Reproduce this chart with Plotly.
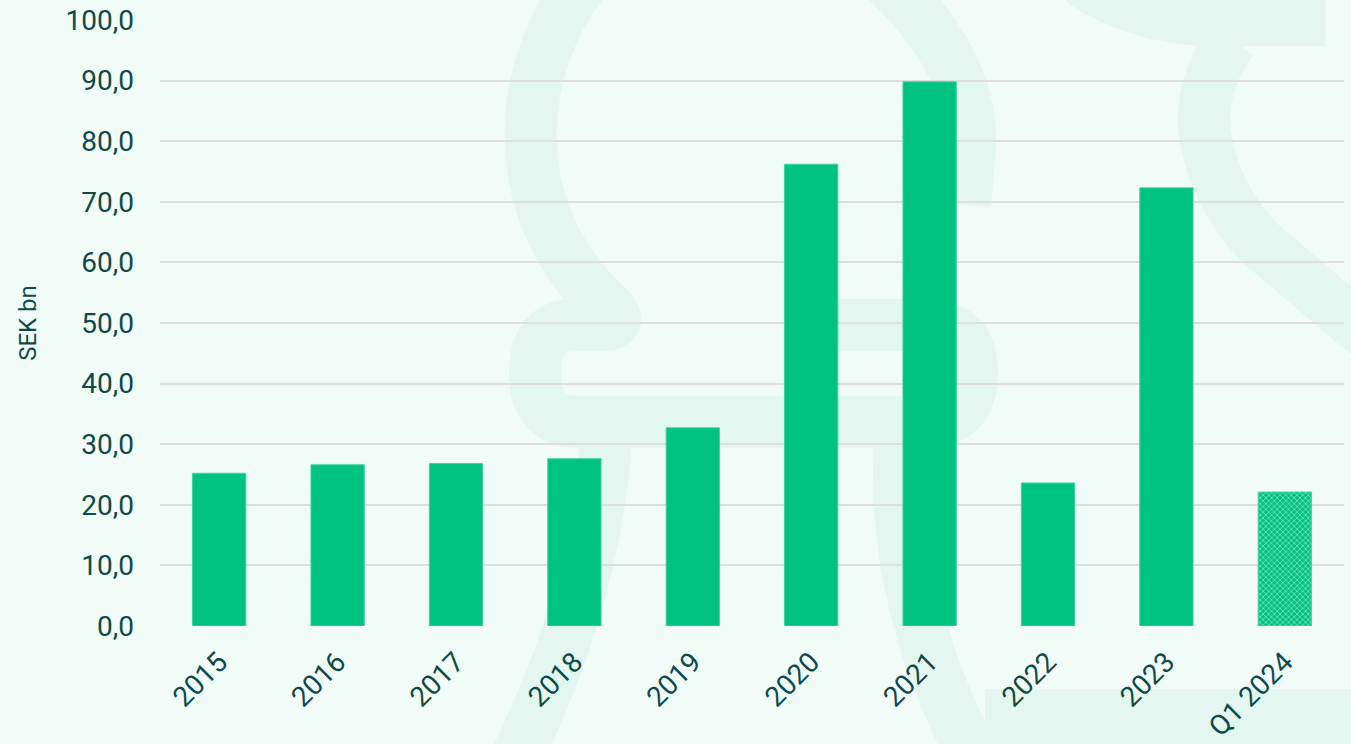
import plotly.graph_objects as go

categories = ["2015", "2016", "2017", "2018", "2019", "2020", "2021", "2022", "2023", "Q1 2024"]
values = [25.2, 26.6, 26.8, 27.6, 32.7, 76.2, 89.8, 23.6, 72.3, 22.1]
patterned = [False, False, False, False, False, False, False, False, False, True]

BAR = "#00C281"
TEXT = "#0E4A4A"
BG = "#F1FBF7"
LOGO = "#E3F6EF"

L, R, T, B = 160, 7, 20, 118
W, H = 1351, 744
PW, PH = W - L - R, H - T - B


def P(px, py):
    return f"{(px - L) / PW:.4f},{(H - B - py) / PH:.4f}"


def path(*segs):
    out = []
    for cmd, pts in segs:
        out.append(cmd + " " + " ".join(P(*p) for p in pts))
    return " ".join(out)


shapes = []
logo_paths = [
    # left S curve into loop
    path(("M", [(585, -20)]), ("C", [(520, 60), (500, 200), (600, 300)]),
         ("Q", [(630, 325), (600, 325)]), ("L", [(575, 325)]),
         ("Q", [(535, 325), (535, 373)]), ("Q", [(535, 422), (580, 422)]),
         ("L", [(925, 422)]), ("Q", [(972, 422), (972, 373)]),
         ("Q", [(972, 325), (925, 325)]), ("L", [(810, 325)])),
    # left leg
    path(("M", [(606, 440)]), ("Q", [(595, 600), (515, 760)])),
    # right leg
    path(("M", [(900, 440)]), ("Q", [(890, 600), (975, 760)])),
    # right top arc
    path(("M", [(880, -25)]), ("Q", [(975, 60), (970, 150)]), ("L", [(965, 205)])),
    # right top band
    path(("M", [(1080, -20)]), ("Q", [(1140, 20), (1215, 20)]), ("L", [(1325, 20)])),
    # right curve and diagonal
    path(("M", [(1232, 40)]), ("Q", [(1195, 90), (1207, 145)]),
         ("Q", [(1218, 200), (1262, 245)]), ("L", [(1380, 345)])),
]
for pth in logo_paths:
    shapes.append(dict(type="path", path=pth, xref="paper", yref="paper",
                       line=dict(color=LOGO, width=52), layer="below"))

shapes.append(dict(type="rect", xref="paper", yref="paper",
                   x0=(985 - L) / PW, x1=(W + 5 - L) / PW,
                   y0=(H - B - 689) / PH, y1=(H - B - 760) / PH,
                   fillcolor=LOGO, line=dict(width=0), layer="below"))

fig = go.Figure()
fig.add_trace(go.Bar(
    x=categories,
    y=values,
    marker=dict(
        color=BAR,
        line=dict(color="#3FD39F", width=1),
        pattern=dict(
            shape=["x" if p else "" for p in patterned],
            fgcolor="white",
            bgcolor=BAR,
            size=4,
            solidity=0.35,
            fillmode="overlay",
        ),
    ),
    width=0.45,
    hoverinfo="skip",
))

fig.update_layout(
    width=W, height=H,
    margin=dict(l=L, r=R, t=T, b=B),
    paper_bgcolor=BG,
    plot_bgcolor="rgba(0,0,0,0)",
    separators=", ",
    font=dict(family="Roboto", color=TEXT, size=28),
    showlegend=False,
    shapes=shapes,
    bargap=0.55,
)
fig.update_yaxes(
    range=[0, 100], dtick=10, tickformat=".1f",
    showgrid=True, gridcolor="#DEDEDE", gridwidth=2,
    zeroline=False, showline=False, ticks="",
    ticklabelstandoff=25, automargin=False,
    title=dict(text="SEK bn", font=dict(size=24, color=TEXT), standoff=22),
    tickfont=dict(size=28, color=TEXT),
)
fig.update_xaxes(
    tickangle=-45, showgrid=False, showline=False, ticks="",
    tickfont=dict(size=28, color=TEXT),
    ticklabelstandoff=13, automargin=False,
)

fig.write_html("out.html")
